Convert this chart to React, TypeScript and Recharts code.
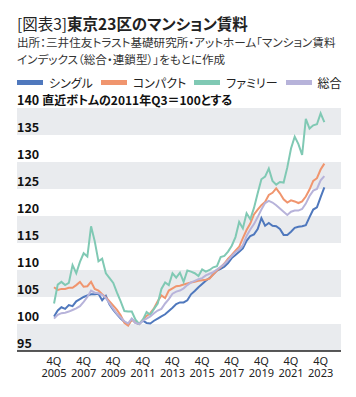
import React from 'react';
import { LineChart, Line, XAxis, YAxis, ReferenceArea } from 'recharts';

const QUARTERS = [
  '2005Q4',
  '2006Q1', '2006Q2', '2006Q3', '2006Q4',
  '2007Q1', '2007Q2', '2007Q3', '2007Q4',
  '2008Q1', '2008Q2', '2008Q3', '2008Q4',
  '2009Q1', '2009Q2', '2009Q3', '2009Q4',
  '2010Q1', '2010Q2', '2010Q3', '2010Q4',
  '2011Q1', '2011Q2', '2011Q3', '2011Q4',
  '2012Q1', '2012Q2', '2012Q3', '2012Q4',
  '2013Q1', '2013Q2', '2013Q3', '2013Q4',
  '2014Q1', '2014Q2', '2014Q3', '2014Q4',
  '2015Q1', '2015Q2', '2015Q3', '2015Q4',
  '2016Q1', '2016Q2', '2016Q3', '2016Q4',
  '2017Q1', '2017Q2', '2017Q3', '2017Q4',
  '2018Q1', '2018Q2', '2018Q3', '2018Q4',
  '2019Q1', '2019Q2', '2019Q3', '2019Q4',
  '2020Q1', '2020Q2', '2020Q3', '2020Q4',
  '2021Q1', '2021Q2', '2021Q3', '2021Q4',
  '2022Q1', '2022Q2', '2022Q3', '2022Q4',
  '2023Q1', '2023Q2', '2023Q3', '2023Q4',
  '2024Q1',
];

const SINGLE = [
  101.4, 102.5, 103.1, 102.8, 103.5, 103.3, 104.2, 104.6, 105.0, 105.3,
  105.5, 105.5, 105.6, 104.4, 105.2, 103.6, 102.6, 101.8, 101.0, 100.4,
  99.8, 100.9, 100.2, 100.0, 100.6, 100.2, 100.1, 100.6, 101.0, 101.4,
  101.8, 102.4, 103.0, 103.7, 104.0, 104.0, 104.4, 105.5, 106.1, 106.8,
  107.4, 108.0, 108.5, 109.2, 109.9, 110.2, 110.6, 111.3, 112.2, 112.8,
  113.4, 114.0, 115.4, 116.3, 116.6, 117.6, 119.6, 118.2, 118.7, 118.2,
  118.1, 117.6, 116.5, 116.5, 117.1, 117.8, 118.0, 118.1, 118.3, 119.8,
  121.2, 121.6, 123.5, 125.3,
];

const COMPACT = [
  106.8, 106.3, 106.5, 106.5, 106.7, 106.7, 107.2, 107.8, 106.9, 107.0,
  107.8, 106.5, 106.2, 105.5, 104.9, 104.2, 103.4, 102.6, 101.6, 100.2,
  99.7, 100.8, 100.3, 100.0, 100.8, 101.5, 102.0, 102.9, 104.2, 105.3,
  104.8, 106.2, 106.6, 107.0, 107.1, 107.3, 107.5, 107.7, 107.8, 108.0,
  108.1, 108.2, 108.4, 109.2, 109.9, 110.5, 111.2, 112.1, 112.8, 113.6,
  114.3, 115.9, 117.4, 118.6, 120.3, 121.2, 122.0, 122.6, 123.9, 124.3,
  125.1, 124.2, 123.1, 122.5, 122.9, 122.7, 122.4, 122.7, 123.6, 124.9,
  126.5, 127.0, 128.6, 129.7,
];

const FAMILY = [
  103.8, 107.3, 107.8, 107.2, 107.6, 110.9, 109.4, 111.5, 113.1, 112.5,
  118.1, 115.3, 111.6, 112.1, 109.4, 108.5, 107.6, 105.8, 104.2, 102.4,
  102.3, 102.3, 100.8, 100.0, 100.8, 102.2, 101.7, 102.8, 103.8, 106.5,
  107.7, 107.2, 109.4, 108.6, 109.5, 107.8, 109.9, 109.7, 109.4, 108.9,
  110.1, 109.7, 110.0, 110.5, 110.7, 112.4, 112.6, 113.4, 114.5, 116.1,
  118.9, 117.7, 120.5, 119.4, 121.5, 124.2, 126.8, 127.3, 128.8, 126.5,
  125.8, 126.3, 126.2, 129.0, 132.5, 134.7, 133.3, 131.3, 138.0, 136.2,
  136.8, 137.0, 139.0, 137.4,
];

const TOTAL = [
  101.0, 101.7, 102.0, 102.1, 102.3, 102.6, 102.9, 103.3, 104.1, 105.0,
  106.2, 105.8, 105.7, 105.4, 104.8, 103.8, 102.8, 101.9, 101.2, 100.5,
  100.1, 101.0, 100.2, 100.0, 100.6, 101.0, 101.4, 102.0, 102.5, 102.8,
  103.8, 104.6, 105.6, 106.0, 106.2, 106.6, 107.2, 107.7, 108.0, 108.3,
  108.5, 109.0, 109.3, 109.6, 110.1, 110.6, 111.1, 111.8, 112.6, 113.3,
  113.8, 114.6, 116.3, 117.5, 118.5, 119.8, 121.2, 122.4, 122.8, 122.5,
  122.0, 121.4, 120.8, 120.2, 120.8, 121.0, 121.0, 121.3, 122.3, 123.7,
  124.7, 125.0, 126.6, 127.4,
];

const Y_TICKS = [95, 100, 105, 110, 115, 120, 125, 130, 135, 140];
const X_TICKS = [0, 8, 16, 24, 32, 40, 48, 56, 64, 72];
const X_TICK_QUARTER = '4Q';
const X_TICK_YEARS = ['2005', '2007', '2009', '2011', '2013', '2015', '2017', '2019', '2021', '2023'];
const BANDS = [[95, 100], [105, 110], [115, 120], [125, 130], [135, 140]];

const TITLE_PREFIX = '[図表3]';
const TITLE = '東京23区のマンション賃料';
const SOURCE_1 = '出所：三井住友トラスト基礎研究所・アットホーム「マンション賃料';
const SOURCE_2 = 'インデックス（総合・連鎖型）」をもとに作成';
const NOTE = '直近ボトムの2011年Q3＝100とする';

const SERIES = [
  { key: 'single', name: 'シングル', color: '#4f78bd', values: SINGLE },
  { key: 'compact', name: 'コンパクト', color: '#f0956e', values: COMPACT },
  { key: 'family', name: 'ファミリー', color: '#80c9b4', values: FAMILY },
  { key: 'total', name: '総合', color: '#b7b3da', values: TOTAL },
];

const data = QUARTERS.map((q, i) => {
  const row: any = { i, q };
  SERIES.forEach((s) => {
    row[s.key] = s.values[i];
  });
  return row;
});

const FONT = '"Noto Sans CJK JP", "Noto Sans", sans-serif';

const YTick = (props: any) => {
  const { x, y, payload } = props;
  return (
    <text
      x={x}
      y={y - 3}
      textAnchor="start"
      fontSize={12.5}
      fontWeight={700}
      fill="#111"
      fontFamily={FONT}
      style={{ fontFeatureSettings: '"palt"' }}
    >
      {payload.value}
      {payload.value === 140 ? (
        <tspan dx={3} fontSize={12}>
          {NOTE}
        </tspan>
      ) : null}
    </text>
  );
};

const XTick = (props: any) => {
  const { x, y, payload } = props;
  const k = X_TICKS.indexOf(payload.value);
  return (
    <g>
      <text x={x} y={y + 14} textAnchor="middle" fontSize={11} fill="#222" fontFamily={'"Noto Sans", sans-serif'}>
        {X_TICK_QUARTER}
      </text>
      <text x={x} y={y + 25.5} textAnchor="middle" fontSize={11} fill="#222" fontFamily={'"Noto Sans", sans-serif'}>
        {k >= 0 ? X_TICK_YEARS[k] : ''}
      </text>
    </g>
  );
};

export default function App() {
  return (
    <div
      style={{
        position: 'absolute',
        left: 0,
        top: 0,
        width: 356,
        height: 397,
        background: '#fff',
        overflow: 'hidden',
        fontFamily: FONT,
        fontFeatureSettings: '"palt"',
        color: '#222',
      }}
    >
      <div style={{ position: 'absolute', left: 17, top: 13, fontSize: 15.5, lineHeight: '20px', whiteSpace: 'nowrap' }}>
        <span style={{ fontWeight: 400 }}>{TITLE_PREFIX}</span>
        <span style={{ fontWeight: 700 }}>{TITLE}</span>
      </div>
      <div style={{ position: 'absolute', left: 17, top: 34, fontSize: 11.6, lineHeight: '17px', color: '#333', whiteSpace: 'nowrap' }}>
        <div>{SOURCE_1}</div>
        <div>{SOURCE_2}</div>
      </div>
      <div
        style={{
          position: 'absolute',
          left: 17,
          top: 73,
          height: 18,
          display: 'flex',
          alignItems: 'center',
          fontSize: 12,
          whiteSpace: 'nowrap',
        }}
      >
        {SERIES.map((s) => (
          <div key={s.key} style={{ display: 'flex', alignItems: 'center', marginRight: 8 }}>
            <div style={{ width: 26, height: 5, background: s.color, marginRight: 6 }} />
            <span>{s.name}</span>
          </div>
        ))}
      </div>
      <div style={{ position: 'absolute', left: 0, top: 0 }}>
        <LineChart width={356} height={397} data={data} margin={{ top: 108, right: 15, bottom: 6, left: 16 }}>
          {BANDS.map(([a, b]) => (
            <ReferenceArea key={a} y1={a} y2={b} fill="#e9ebee" fillOpacity={1} stroke="none" ifOverflow="visible" />
          ))}
          <XAxis
            type="number"
            dataKey="i"
            domain={[-10, 77.5]}
            ticks={X_TICKS}
            interval={0}
            tickLine={false}
            tickSize={0}
            tickMargin={0}
            height={40}
            axisLine={{ stroke: '#222', strokeWidth: 1.5 }}
            tick={<XTick />}
          />
          <YAxis
            type="number"
            domain={[95, 140]}
            ticks={Y_TICKS}
            interval={0}
            width={1}
            axisLine={false}
            tickLine={false}
            tickSize={0}
            tickMargin={0}
            tick={<YTick />}
          />
          {SERIES.map((s) => (
            <Line
              key={s.key}
              type="linear"
              dataKey={s.key}
              name={s.name}
              stroke={s.color}
              strokeWidth={2}
              dot={false}
              activeDot={false}
              isAnimationActive={false}
            />
          ))}
        </LineChart>
      </div>
    </div>
  );
}
